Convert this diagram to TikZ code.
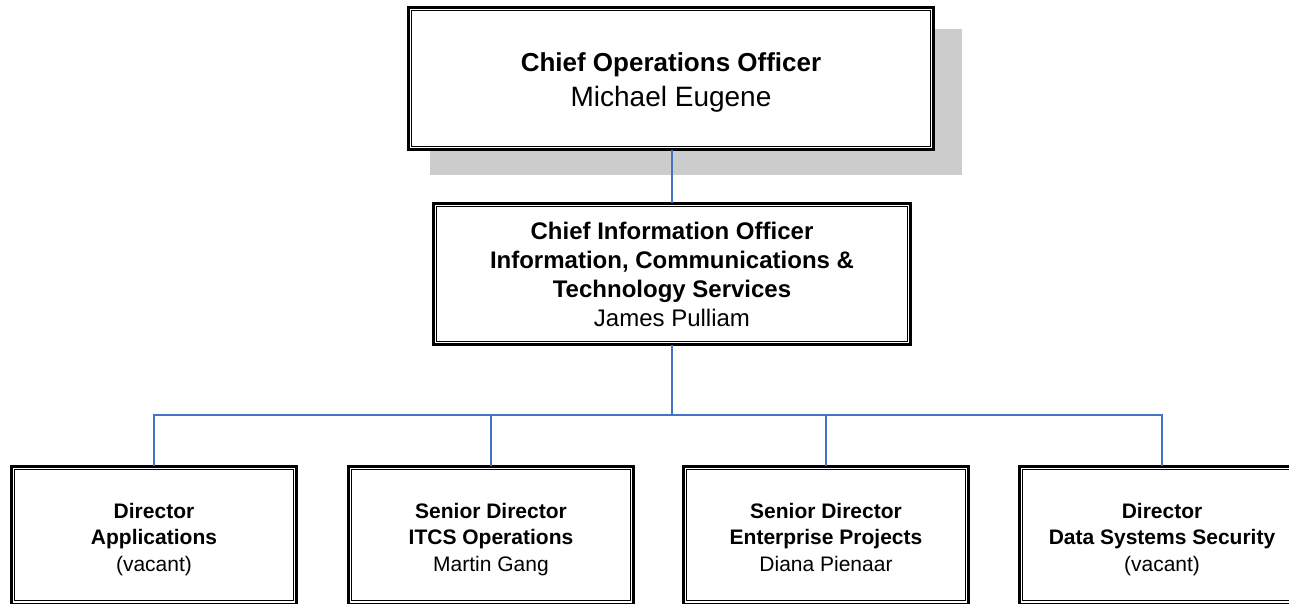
\documentclass[tikz,border=0pt]{standalone}
\usepackage{fontspec}
\setmainfont{Liberation Sans}
\definecolor{connblue}{RGB}{68,114,196}
\definecolor{shadowgray}{RGB}{204,204,204}
\newcommand\topst[1]{\rule{0pt}{#1pt}}
\newcommand\botst[1]{\rule[-#1pt]{0pt}{#1pt}}
\begin{document}
\begin{tikzpicture}[x=1pt,y=-1pt,
  orgbox/.style={draw=black, fill=white, line width=2.7pt, inner sep=0pt, outer sep=0pt, align=center},
  innerline/.style={draw=black, line width=1.3pt},
  conn/.style={draw=connblue, line width=2pt},
  topfont/.style={font=\fontsize{27}{35}\selectfont},
  ciofont/.style={font=\fontsize{24}{29}\selectfont},
  dirfont/.style={font=\fontsize{21}{26.5}\selectfont}]
\useasboundingbox (0,0) rectangle (1289,603);
\clip (0,0) rectangle (1289,603);
% shadow of the top box
\fill[shadowgray] (430,29) rectangle (962,175);
% nodes
\node[orgbox, topfont, minimum width=525.4pt, minimum height=142.4pt] (top) at (671,78.5)
  {\topst{31}{\fontsize{26}{35}\selectfont\bfseries Chief Operations Officer}\\{\fontsize{28}{35}\selectfont Michael Eugene}\botst{10}};
\node[orgbox, ciofont, minimum width=477.4pt, minimum height=141.4pt] (cio) at (672,274)
  {\textbf{Chief Information Officer}\\\textbf{Information, Communications \&}\\\textbf{Technology Services}\\James Pulliam};
\node[orgbox, dirfont, minimum width=285.4pt, minimum height=137.7pt] (d1) at (154,535)
  {\topst{27}\textbf{Director}\\\textbf{Applications}\\(vacant)\botst{8}};
\node[orgbox, dirfont, minimum width=285.4pt, minimum height=137.7pt] (d2) at (491,535)
  {\topst{27}\textbf{Senior Director}\\\textbf{ITCS Operations}\\Martin Gang\botst{8}};
\node[orgbox, dirfont, minimum width=285.4pt, minimum height=137.7pt] (d3) at (826,535)
  {\topst{27}\textbf{Senior Director}\\\textbf{Enterprise Projects}\\Diana Pienaar\botst{8}};
\node[orgbox, dirfont, minimum width=285.4pt, minimum height=137.7pt] (d4) at (1162,535)
  {\topst{27}\textbf{Director}\\\textbf{Data Systems Security}\\(vacant)\botst{8}};
% inner frames of the double borders
\foreach \n in {top,cio,d1,d2,d3,d4}{
  \draw[innerline] ([shift={(3.4,3.4)}]\n.north west) rectangle ([shift={(-3.4,-3.4)}]\n.south east);
}
% connectors
\coordinate (bus) at (672,415);
\draw[conn] (cio.north |- top.south) -- (cio.north);
\draw[conn] (cio.south) -- (bus);
\draw[conn] (d1.north) -- (d1.north |- bus) -- (d4.north |- bus) -- (d4.north);
\draw[conn] (d2.north) -- (d2.north |- bus);
\draw[conn] (d3.north) -- (d3.north |- bus);
\end{tikzpicture}
\end{document}
